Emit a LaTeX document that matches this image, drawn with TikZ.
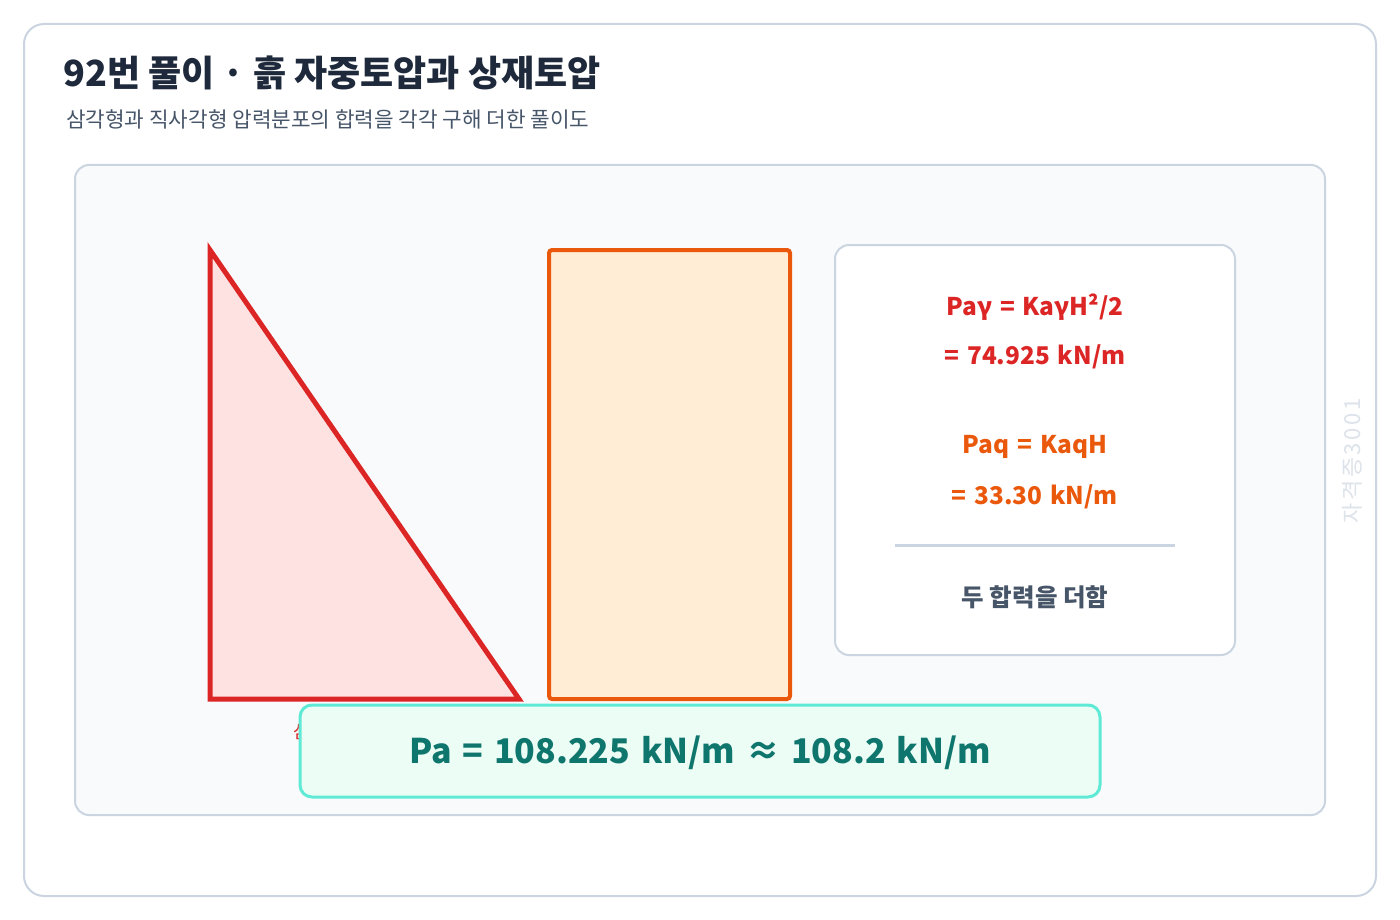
\documentclass[tikz,border=0pt]{standalone}
\usepackage{fontspec}
\setmainfont{Noto Sans CJK KR}
\newfontfamily\widefont{Noto Sans CJK KR}[WordSpace=1.4]
\definecolor{cardline}{HTML}{CBD5E1}
\definecolor{panelfill}{HTML}{F8FAFC}
\definecolor{titlec}{HTML}{1E293B}
\definecolor{subc}{HTML}{475569}
\definecolor{redc}{HTML}{DC2626}
\definecolor{redfill}{HTML}{FEE2E2}
\definecolor{orc}{HTML}{EA580C}
\definecolor{orfill}{HTML}{FFEDD5}
\definecolor{tealline}{HTML}{5EEAD4}
\definecolor{tealfill}{HTML}{ECFDF5}
\definecolor{tealtext}{HTML}{0F766E}
\definecolor{wmark}{HTML}{DDE3EA}
\tikzset{
  card/.style={draw=cardline, line width=2pt, fill=white, rounded corners=20pt},
  panel/.style={draw=cardline, line width=2pt, fill=panelfill, rounded corners=14pt},
  infobox/.style={draw=cardline, line width=2pt, fill=white, rounded corners=14pt},
  redf/.style={text=redc, font=\widefont\fontsize{24.4}{28}\selectfont\bfseries},
  orf/.style={text=orc, font=\widefont\fontsize{24.4}{28}\selectfont\bfseries},
}
\begin{document}
\begin{tikzpicture}[x=1pt,y=-1pt]
\useasboundingbox (0,0) rectangle (1400,920);
\fill[white] (0,0) rectangle (1400,920);
\draw[card] (24,24) rectangle (1376,896);
\node[anchor=west, text=titlec, font=\fontsize{36}{40}\selectfont\bfseries, inner sep=0] (title) at (63,73) {92번 풀이 · 흙 자중토압과 상재토압};
\node[anchor=west, text=subc, font=\fontsize{21.3}{25}\selectfont, inner sep=0] (sub) at (66,119) {삼각형과 직사각형 압력분포의 합력을 각각 구해 더한 풀이도};
\draw[panel] (75,165) rectangle (1325,815);
\node[rotate=90, text=wmark, font=\fontsize{22}{24}\selectfont\addfontfeatures{LetterSpace=12}, inner sep=0] (wm) at (1352,461) {자격증3001};
% triangle
\draw[redc, fill=redfill, line width=5pt, miter limit=20] (210,250) -- (210,699) -- (519,699) -- cycle;
\node[anchor=west, text=redc, font=\fontsize{18}{20}\selectfont, inner sep=0] (tlabel) at (293,732) {삼각형 분포};
% rectangle
\draw[orc, fill=orfill, line width=4pt, rounded corners=3pt] (549,250) rectangle (790,699);
% info box
\draw[infobox] (835,245) rectangle (1235,655);
\node[redf] (f1) at (1035,307) {Paγ = KaγH²/2};
\node[redf] (f2) at (1035,357) {= 74.925 kN/m};
\node[orf] (f3) at (1035,447) {Paq = KaqH};
\node[orf] (f4) at (1035,497) {= 33.30 kN/m};
\coordinate (l1) at (895,545);
\coordinate (l2) at (1175,545);
\draw[cardline, line width=3pt] (l1) -- (l2);
\node[text=subc, font=\fontsize{24.5}{28}\selectfont\bfseries] (sum) at (1035,597) {두 합력을 더함};
% result
\draw[draw=tealline, fill=tealfill, line width=3pt, rounded corners=12pt] (300,705) rectangle (1100,797);
\node[text=tealtext, font=\widefont\fontsize{34}{40}\selectfont\bfseries] (res) at (700,753) {Pa = 108.225 kN/m ≈ 108.2 kN/m};
\end{tikzpicture}
\end{document}
